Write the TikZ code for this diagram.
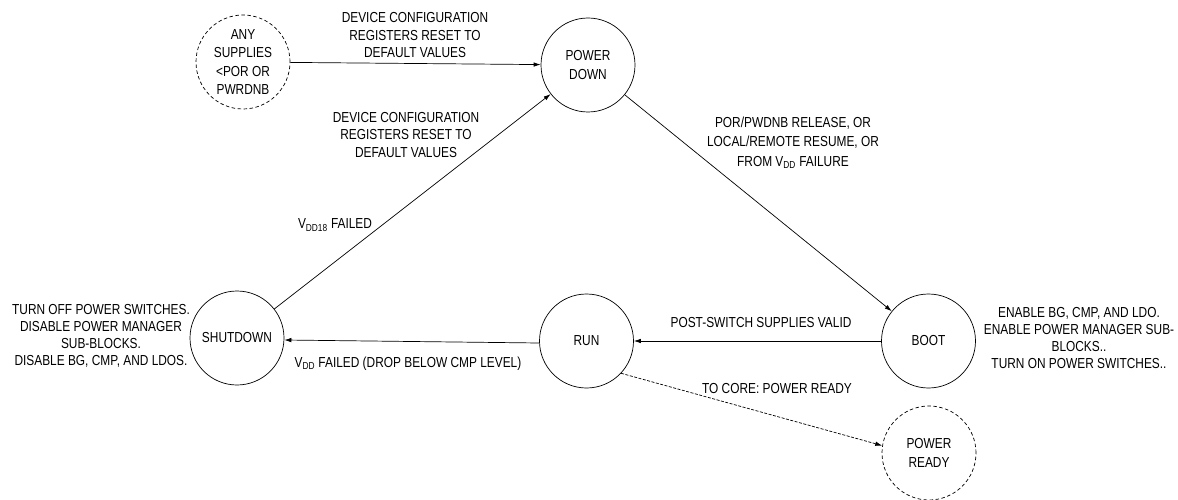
\documentclass[tikz,border=0pt]{standalone}
\usepackage{fontspec}
\setmainfont{Liberation Sans}[FakeStretch=0.82]
\usetikzlibrary{arrows.meta}
\begin{document}
\begin{tikzpicture}[x=1pt,y=-1pt,
  state/.style={circle, draw, minimum size=94pt, inner sep=0pt, align=center,
    line width=0.7pt, font=\fontsize{14.5}{18.5}\selectfont},
  dstate/.style={state, dash pattern=on 3.5pt off 2.5pt},
  lbl/.style={align=center, inner sep=0pt, font=\fontsize{14.5}{17.5}\selectfont},
  arr/.style={-{Latex[length=7pt,width=4.5pt]}, line width=0.7pt},
  darr/.style={arr, dash pattern=on 3pt off 1.5pt}]
\useasboundingbox (0,0) rectangle (1178,500);

% states
\node[dstate] (any) at (243,62) {ANY\\SUPPLIES\\{<}POR OR\\PWRDNB};
\node[state] (pd) at (588,65) {POWER\\DOWN};
\node[state] (sd) at (237,338) {SHUTDOWN};
\node[state] (run) at (586.5,341) {RUN};
\node[state] (boot) at (928.5,341) {BOOT};
\node[dstate] (pr) at (929,453) {POWER\\READY};

% transitions
\draw[arr] (any) -- (pd);
\draw[arr] (sd) -- (pd);
\draw[arr] (pd) -- (boot);
\draw[arr] (boot) -- (run);
\draw[arr] ([yshift=-2pt]run.west) -- ([yshift=-2pt]sd.east);
\draw[darr] (run.-43) -- (pr.171);

% transition labels
\node[lbl] (l1) at (415,35.5) {DEVICE CONFIGURATION\\REGISTERS RESET TO\\DEFAULT VALUES};
\node[lbl] (l2) at (406,135) {DEVICE CONFIGURATION\\REGISTERS RESET TO\\DEFAULT VALUES};
\node[lbl] (l3) at (335,225) {V\textsubscript{DD18} FAILED};
\node[lbl, font=\fontsize{14.5}{19.5}\selectfont] (l4) at (793,142.5)
  {POR/PWDNB RELEASE, OR\\LOCAL/REMOTE RESUME, OR\\FROM V\textsubscript{DD} FAILURE};
\node[lbl] (l5) at (761,323) {POST-SWITCH SUPPLIES VALID};
\node[lbl] (l6) at (408,364) {V\textsubscript{DD} FAILED (DROP BELOW CMP LEVEL)};
\node[lbl] (l7) at (777,389) {TO CORE: POWER READY};

% state actions
\node[lbl, font=\fontsize{14.5}{17}\selectfont] (a1) at (101,336)
  {TURN OFF POWER SWITCHES.\\DISABLE POWER MANAGER\\SUB-BLOCKS.\\DISABLE BG, CMP, AND LDOS.};
\node[lbl, font=\fontsize{14.5}{17}\selectfont] (a2) at (1079,338)
  {ENABLE BG, CMP, AND LDO.\\ENABLE POWER MANAGER SUB-\\BLOCKS..\\TURN ON POWER SWITCHES..};
\end{tikzpicture}
\end{document}
